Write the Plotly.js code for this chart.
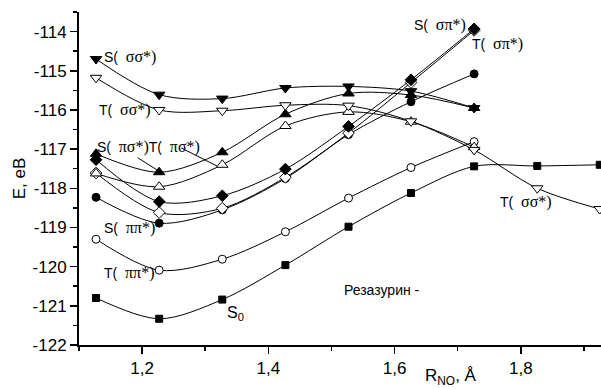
<!DOCTYPE html>
<html>
<head>
<meta charset="utf-8">
<script src="https://cdn.plot.ly/plotly-3.0.1.min.js"></script>
<style>html,body{margin:0;padding:0;background:#fff;}</style>
</head>
<body>
<div id="chart" style="width:601px;height:389px;"></div>
<script>
// Bond length R(N-O), Å
var xR = [1.127, 1.227, 1.327, 1.427, 1.527, 1.626, 1.726, 1.826, 1.925];

// Energies, eV
var S_sigsig = [-114.70, -115.61, -115.71, -115.44, -115.40, -115.52, -115.95];
var T_sigsig = [-115.18, -116.00, -116.02, -115.88, -115.89, -116.29, -117.02, -118.00, -118.53];
var S_pisig  = [-117.12, -117.59, -117.08, -116.11, -115.58, -115.62, -115.95];
var T_pisig  = [-117.62, -117.96, -117.40, -116.41, -116.05, -116.30, -116.95];
var S_sigpi  = [-117.27, -118.34, -118.19, -117.51, -116.42, -115.23, -113.93];
var D_open   = [-117.61, -118.62, -118.51, -117.72, -116.59, -115.30, -113.97];
var T_sigpi  = [-118.23, -118.89, -118.55, -117.75, -116.63, -115.79, -115.08];
var C_open   = [-119.30, -120.09, -119.81, -119.11, -118.25, -117.47, -116.81];
var S0       = [-120.80, -121.33, -120.84, -119.96, -118.98, -118.12, -117.44, -117.43, -117.40];

var yTickVals = [-122, -121, -120, -119, -118, -117, -116, -115, -114];
var yTickText = ['-122', '-121', '-120', '-119', '-118', '-117', '-116', '-115', '-114'];

var FONT = 'Liberation Sans, Arial, sans-serif';
var G = function (s) { return '<span style="font-family:Liberation Serif, Times New Roman, serif;font-size:16px">' + s + '</span>'; };
var SP = '\u00a0\u00a0';

function series(y, symbol, filled, size) {
  return {
    x: xR.slice(0, y.length), y: y,
    type: 'scatter', mode: 'lines+markers',
    line: {color: 'black', width: 1, shape: 'spline', smoothing: 0.9},
    marker: {symbol: symbol, size: size, color: filled ? 'black' : 'white',
             line: {color: 'black', width: 1}},
    hoverinfo: 'x+y'
  };
}

var data = [
  series(S0, 'square', true, 7),
  series(C_open, 'circle', false, 8),
  series(T_sigpi, 'circle', true, 8),
  series(D_open, 'diamond', false, 9),
  series(S_sigpi, 'diamond', true, 9),
  series(T_pisig, 'triangle-up', false, 10),
  series(S_pisig, 'triangle-up', true, 10),
  series(T_sigsig, 'triangle-down', false, 10),
  series(S_sigsig, 'triangle-down', true, 10)
];

function lab(x, y, text, size) {
  return {x: x, y: y, xref: 'x', yref: 'y', text: text, showarrow: false,
          xanchor: 'left', yanchor: 'middle', font: {family: FONT, size: size || 14, color: 'black'}};
}

var annotations = [
  lab(1.136, -114.65, 'S(' + SP + G('σσ*)')),
  lab(1.128, -116.00, 'T(' + SP + G('σσ*)')),
  lab(1.125, -116.95, 'S(' + SP + G('πσ*)') + 'T(' + SP + G('πσ*)')),
  lab(1.136, -119.01, 'S(' + SP + G('ππ*)')),
  lab(1.136, -120.16, 'T(' + SP + G('ππ*)')),
  lab(1.332, -121.20, 'S<sub>0</sub>', 16),
  lab(1.516, -120.60, 'Резазурин -'),
  lab(1.627, -113.83, 'S(' + SP + G('σπ*)')),
  lab(1.720, -114.32, 'T(' + SP + G('σπ*)')),
  lab(1.764, -118.35, 'T(' + SP + G('σσ*)')),
  {xref: 'paper', yref: 'paper', x: 0.7126, y: -0.096, xanchor: 'center', yanchor: 'middle',
   text: 'R<sub>NO</sub>, Å', showarrow: false, font: {family: FONT, size: 17, color: 'black'}}
];

// leader lines from the πσ* labels to their curves
var shapes = [
  {type: 'line', xref: 'x', yref: 'y', x0: 1.193, y0: -117.22, x1: 1.2235, y1: -117.53, line: {color: 'black', width: 1}},
  {type: 'line', xref: 'x', yref: 'y', x0: 1.262, y0: -116.97, x1: 1.3185, y1: -117.43, line: {color: 'black', width: 1}}
];

var layout = {
  width: 601, height: 389,
  margin: {l: 79, r: 0, t: 12, b: 44},
  paper_bgcolor: 'white', plot_bgcolor: 'white',
  showlegend: false,
  separators: ',.',
  font: {family: FONT, color: 'black'},
  xaxis: {
    range: [1.1, 1.927], tick0: 1.2, dtick: 0.2, tickformat: '.1f',
    ticks: 'outside', ticklen: 7, tickwidth: 1.5, tickcolor: 'black',
    showline: true, linewidth: 2, linecolor: 'black',
    showgrid: false, zeroline: false,
    tickfont: {family: FONT, size: 17, color: 'black'},
    minor: {dtick: 0.1, tick0: 1.1, ticks: 'outside', ticklen: 4, tickwidth: 1.5, tickcolor: 'black', showgrid: false}
  },
  yaxis: {
    range: [-122, -113.5], tickmode: 'array', tickvals: yTickVals, ticktext: yTickText,
    ticks: 'outside', ticklen: 7, tickwidth: 1.5, tickcolor: 'black',
    showline: true, linewidth: 2, linecolor: 'black',
    showgrid: false, zeroline: false,
    tickfont: {family: FONT, size: 17, color: 'black'},
    title: {text: 'E, eB', font: {family: FONT, size: 17, color: 'black'}, standoff: 3},
    minor: {dtick: 0.5, tick0: -122, ticks: 'outside', ticklen: 4, tickwidth: 1.5, tickcolor: 'black', showgrid: false}
  },
  annotations: annotations,
  shapes: shapes
};

Plotly.newPlot('chart', data, layout, {displayModeBar: false, staticPlot: true});
</script>
</body>
</html>
